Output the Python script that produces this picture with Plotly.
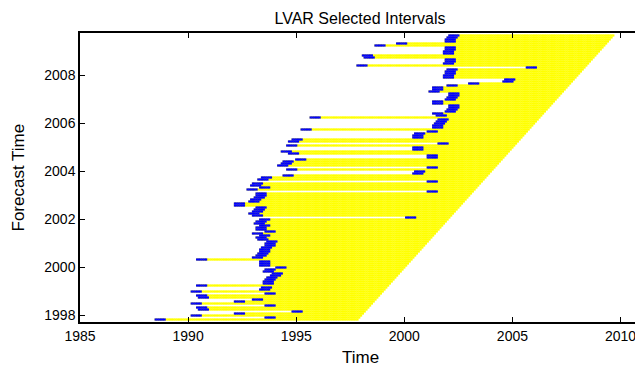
import plotly.graph_objects as go

# First forecast month (decimal year) and monthly step
first_forecast = 1997.8333
# Start of the selected interval for each monthly forecast time (bottom to top)
interval_start = [
    1988.5, 1993.6, 1990.2, 1992.2, 1994.8, 1990.5, 1990.4, 1993.6, 1990.2, 1992.2,
    1993.0, 1990.5, 1990.4, 1993.6, 1990.2, 1993.3, 1993.4, 1990.4, 1993.5, 1993.5,
    1993.6, 1993.7, 1993.8, 1993.9, 1993.5, 1993.6, 1994.1, 1993.3, 1993.35, 1993.35,
    1990.4, 1993.0, 1993.2, 1993.25, 1993.3, 1993.35, 1993.4, 1993.55, 1993.6, 1993.65,
    1993.25, 1993.2, 1993.3, 1993.0, 1993.55, 1993.15, 1993.2, 1993.3, 1993.1, 1993.2,
    1993.3, 2000.1, 1993.0, 1992.85, 1993.0, 1993.1, 1993.2, 1992.15, 1992.2, 1992.85,
    1992.95, 1993.05, 1993.15, 1993.2, 2001.1, 1992.75, 1993.3, 1992.9, 1993.0, 2001.1,
    1993.25, 1993.4, 1994.4, 2000.45, 2000.5, 1994.6, 2001.1, 1994.2, 1994.3, 1994.4,
    1995.0, 2001.05, 2001.1, 1994.7, 1994.3, 2000.4, 2000.45, 1994.6, 2001.6, 1994.7,
    1994.85, 2000.4, 2000.45, 2000.5, 2001.05, 1995.25, 2001.3, 2001.35, 2001.4, 2001.5,
    2001.55, 1995.7, 2001.5, 2001.3, 2001.95, 2002.0, 2002.05, 2002.1, 2001.3, 2001.35,
    2001.95, 2002.0, 2002.05, 2002.1, 2001.2, 2001.3, 2001.35, 2002.0, 2003.0, 2004.6,
    2004.7, 2001.8, 2001.85, 2001.9, 2001.95, 2002.0, 2005.7, 1997.8, 2001.85, 2001.9,
    2001.95, 1998.2, 1998.1, 2001.8, 2001.85, 2001.9, 2001.95, 1998.65, 1999.7, 2001.9,
    2001.95, 2002.0, 2002.05,
]
x_ticks = [1985, 1990, 1995, 2000, 2005, 2010]
y_ticks = [1998, 2000, 2002, 2004, 2006, 2008]
blue_len = 6  # months highlighted at the start of each interval

yx, yy, bx, by = [], [], [], []
for k, s in enumerate(interval_start):
    f = first_forecast + k / 12.0
    n = int(round((f - s) * 12))
    for j in range(n + 1):
        t = f - j / 12.0
        yx.append(t)
        yy.append(f)
        if j > n - blue_len:
            bx.append(t)
            by.append(f)

fig = go.Figure()
fig.add_trace(go.Scatter(x=yx, y=yy, mode="markers",
                         marker=dict(symbol="square", size=2.2, color="#ffff00", line=dict(width=0)),
                         hoverinfo="skip", showlegend=False))
fig.add_trace(go.Scatter(x=bx, y=by, mode="markers",
                         marker=dict(symbol="square", size=2.2, color="#0000ff", line=dict(width=0)),
                         hoverinfo="skip", showlegend=False))

# The page body adds an 8px offset, so the figure is 8px smaller on each axis.
W, H = 635, 362
L, R, T, B = 72, 3, 25, 48
pw, ph = W - L - R, H - T - B

font = "Liberation Sans, Arial, sans-serif"
fig.update_layout(
    width=W, height=H,
    margin=dict(l=L, r=R, t=T, b=B, autoexpand=False),
    paper_bgcolor="white", plot_bgcolor="white",
    font=dict(family=font, color="black", size=14),
    title=dict(text="LVAR Selected Intervals", x=(L + pw / 2) / W, xanchor="center",
               y=1 - 10 / H, yanchor="middle", font=dict(size=16, family=font)),
    xaxis=dict(range=[1985, 2010.9], tickvals=x_ticks, ticktext=[str(v) for v in x_ticks],
               ticks="inside", ticklen=5, tickcolor="black", showline=True, linecolor="black",
               linewidth=1.5, mirror="ticks", showgrid=False, zeroline=False,
               automargin=False, tickfont=dict(size=14)),
    yaxis=dict(range=[1997.73, 2009.77], tickvals=y_ticks, ticktext=[str(v) for v in y_ticks],
               ticks="inside", ticklen=5, tickcolor="black", showline=True, linecolor="black",
               linewidth=1.5, mirror="ticks", showgrid=False, zeroline=False,
               automargin=False, tickfont=dict(size=14)),
    annotations=[
        dict(text="Time", xref="paper", yref="paper", x=0.5, y=-35 / ph, xanchor="center",
             yanchor="middle", showarrow=False, font=dict(size=17, family=font)),
        dict(text="Forecast Time", xref="paper", yref="paper", x=-62 / pw, y=0.5,
             xanchor="center", yanchor="middle", textangle=-90, showarrow=False,
             font=dict(size=17, family=font)),
    ],
)
fig.write_html("out.html")
